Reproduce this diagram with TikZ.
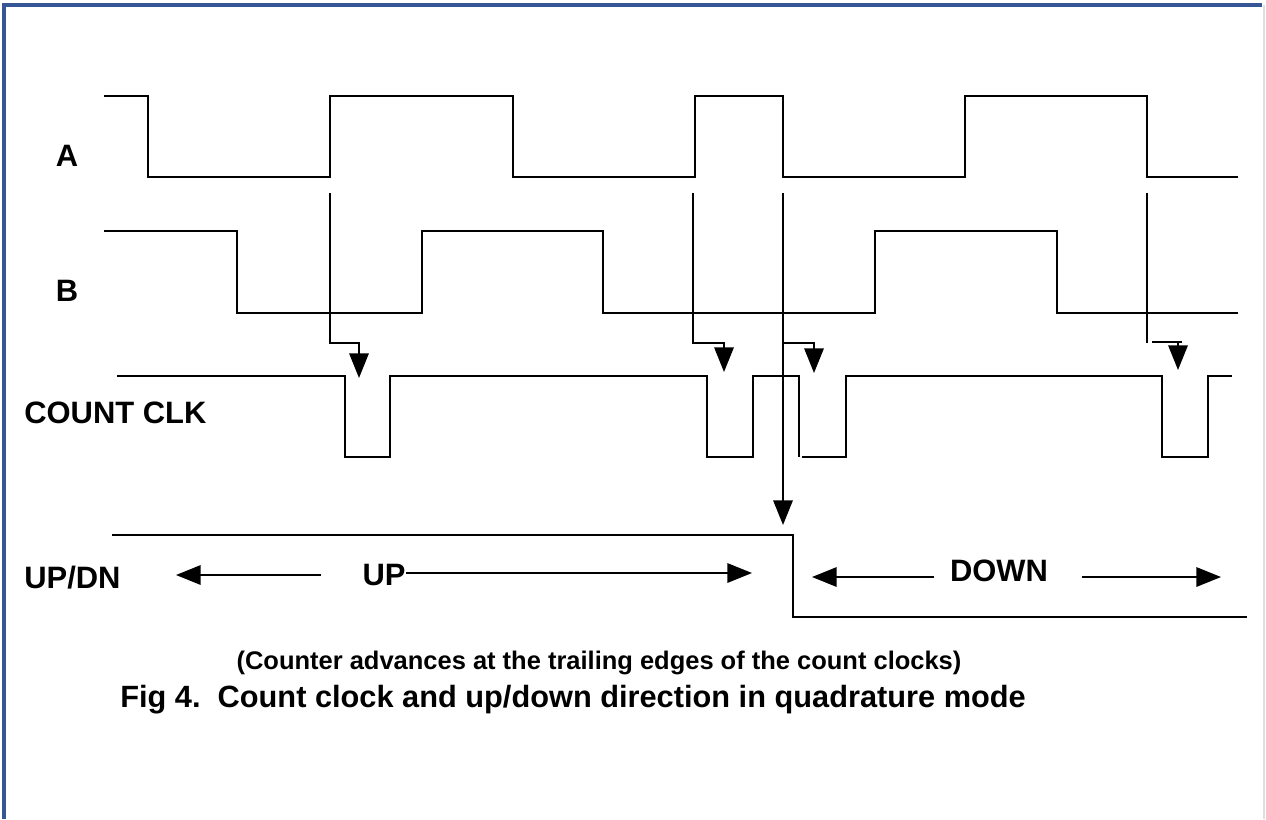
\documentclass[tikz,border=0pt]{standalone}
\usepackage{fontspec}
\setmainfont{Liberation Sans}
\usetikzlibrary{arrows.meta}
\definecolor{frameblue}{RGB}{54,86,150}
\tikzset{
	wave/.style={line width=1.15pt},
	tip/.style={line width=1.15pt, -{Triangle[length=14pt,width=11pt]}},
	sig/.style={font=\fontsize{17.6}{20}\selectfont\bfseries, inner sep=0pt},
}
\begin{document}
\begin{tikzpicture}[x=0.02cm, y=-0.02cm]
	\useasboundingbox (0,0) rectangle (1266,819);
	
	\draw[frameblue, line width=2pt] (4,819) -- (4,5) -- (1262,5);
	\draw[gray!25, line width=1pt] (1264,5) -- (1264,819);
	
	\node[sig] (lblA) at (67,156) {A};
	\node[sig] (lblB) at (67,291) {B};
	\node[sig, anchor=west] (lblclk) at (24,413) {COUNT CLK};
	\node[sig, anchor=west] (lblud) at (24,578) {UP/DN};
	\node[sig] (up) at (384,575) {UP};
	\node[sig] (down) at (999,571) {DOWN};
	
	% A
	\draw[wave] (104,96) -- (148,96) -- (148,177) -- (330,177) -- (330,96) -- (513,96) -- (513,177) -- (695,177) -- (695,96) -- (783,96) -- (783,177) -- (965,177) -- (965,96) -- (1147,96) -- (1147,177) -- (1238,177);
	% B
	\draw[wave] (104,231) -- (237,231) -- (237,313) -- (422,313) -- (422,231) -- (603,231) -- (603,313) -- (875,313) -- (875,231) -- (1057,231) -- (1057,313) -- (1238,313);
	% COUNT CLK
	\draw[wave] (117,376) -- (345,376) -- (345,457) -- (390,457) -- (390,376) -- (707,376) -- (707,457) -- (753,457) -- (753,376) -- (799,376) -- (799,457);
	\draw[wave] (802,457) -- (846,457) -- (846,376) -- (1162,376) -- (1162,457) -- (1208,457) -- (1208,376) -- (1232,376);
	% UP/DN
	\draw[wave] (112,535) -- (793,535) -- (793,617) -- (1247,617);
	
	\coordinate (e1) at (330,193);
	\coordinate (e2) at (693,193);
	\coordinate (e3) at (783,193);
	\coordinate (e4) at (1147,193);
	\coordinate (k1) at (359,378);
	\coordinate (k2) at (724,372);
	\coordinate (k3) at (814,373);
	\coordinate (k4) at (1178,370);
	\coordinate (dir) at (783,525);
	
	\draw[tip] (e1) -- ++(0,150) -| (k1);
	\draw[tip] (e2) -- ++(0,150) -| (k2);
	\draw[tip] (e3) -- (dir);
	\draw[tip] ([yshift=-150*0.02cm]e3) -| (k3);
	\draw[wave] (e4) -- ++(0,150);
	\draw[wave] (1152,342) -- (1182,342);
	\draw[tip] (k4 |- 0,342) -- (k4);
	
	\coordinate (upl) at (176,575);
	\coordinate (upr) at (752,573);
	\coordinate (dnl) at (812,577);
	\coordinate (dnr) at (1221,577);
	\draw[tip] ([xshift=-41*0.02cm]up.west |- upl) -- (upl);
	\draw[tip] (up.east |- upr) -- (upr);
	\draw[tip] ([xshift=-16*0.02cm]down.west |- dnl) -- (dnl);
	\draw[tip] ([xshift=34*0.02cm]down.east |- dnr) -- (dnr);
	
	\node[font=\fontsize{14.5}{17}\selectfont\bfseries] (note) at (599,663) {(Counter advances at the trailing edges of the count clocks)};
	\node[font=\fontsize{17.5}{21}\selectfont\bfseries] (title) at (573,700) {Fig 4.\ \ Count clock and up/down direction in quadrature mode};
	
\end{tikzpicture}
\end{document}
